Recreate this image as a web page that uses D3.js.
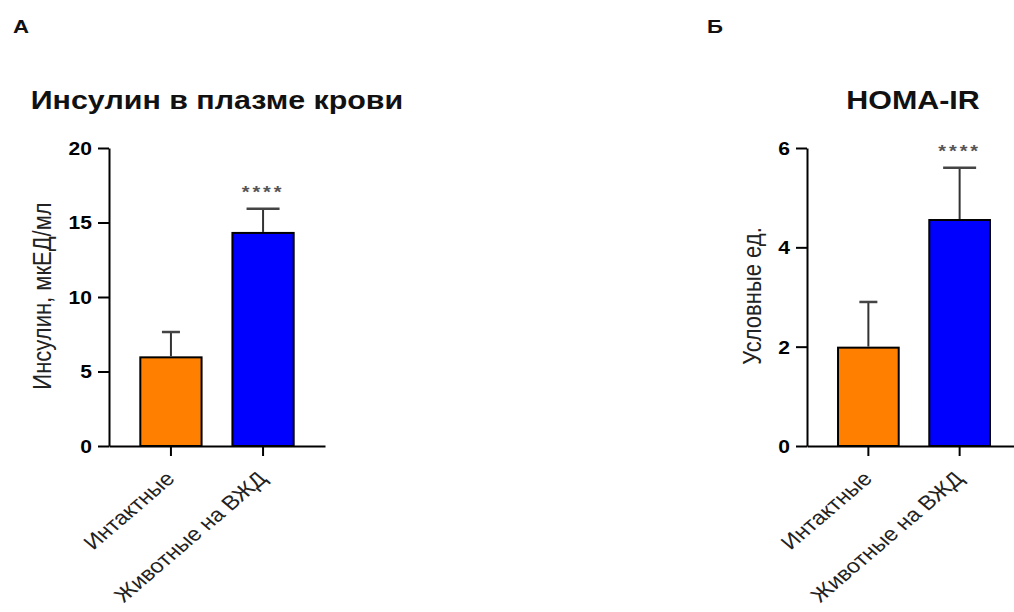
<!DOCTYPE html>
<html><head><meta charset="utf-8">
<script src="https://cdn.jsdelivr.net/npm/d3@7"></script>
<style>
html,body{margin:0;padding:0;background:#fff;}
svg{display:block;font-family:"Liberation Sans",Arial,sans-serif;}
</style></head>
<body>
<svg id="c" width="1014" height="612"></svg>
<script>
// ---- data ----
const categories = ["Интактные", "Животные на ВЖД"];
const insulinMeans = [5.95, 14.3];
const insulinErrors = [1.7, 1.63];
const insulinTicks = [0, 5, 10, 15, 20];
const homaMeans = [1.98, 4.55];
const homaErrors = [0.92, 1.05];
const homaTicks = [0, 2, 4, 6];
const significance = ["", "****"];
const panelLetters = ["А", "Б"];
const titles = ["Инсулин в плазме крови", "HOMA-IR"];
const yLabels = ["Инсулин, мкЕД/мл", "Условные ед."];

// ---- style ----
const barColors = ["#FF8000", "#0000FF"];
const capWidths = [18, 33];
const SX = 1.17; // horizontal text stretch seen in the reference

const svg = d3.select("#c");

function panel(opt) {
  const g = svg.append("g");
  const y = d3.scaleLinear().domain([0, opt.max]).range([446, 148]);
  const x = d3.scaleBand().domain(categories).range([opt.x0, opt.x1])
    .paddingInner(0.335).paddingOuter(0.34);

  // bars
  g.selectAll("rect.bar").data(categories).join("rect")
    .attr("x", d => x(d)).attr("width", x.bandwidth())
    .attr("y", (d, i) => y(opt.means[i]))
    .attr("height", (d, i) => y(0) - y(opt.means[i]))
    .attr("fill", (d, i) => barColors[i])
    .attr("stroke", "#000").attr("stroke-width", 2);

  // error bars (upper only)
  g.selectAll("line.err").data(categories).join("line")
    .attr("x1", d => x(d) + x.bandwidth() / 2).attr("x2", d => x(d) + x.bandwidth() / 2)
    .attr("y1", (d, i) => y(opt.means[i]) - 1)
    .attr("y2", (d, i) => y(opt.means[i] + opt.errs[i]))
    .attr("stroke", "#333").attr("stroke-width", 2);
  g.selectAll("line.cap").data(categories).join("line")
    .attr("x1", (d, i) => x(d) + x.bandwidth() / 2 - capWidths[i] / 2)
    .attr("x2", (d, i) => x(d) + x.bandwidth() / 2 + capWidths[i] / 2)
    .attr("y1", (d, i) => y(opt.means[i] + opt.errs[i]))
    .attr("y2", (d, i) => y(opt.means[i] + opt.errs[i]))
    .attr("stroke", "#444").attr("stroke-width", 2.5);

  // significance
  g.selectAll("text.sig").data(categories).join("text")
    .attr("transform", (d, i) => `translate(${x(d) + x.bandwidth() / 2},${y(opt.means[i] + opt.errs[i]) - 11}) scale(${SX},1)`)
    .attr("text-anchor", "middle")
    .attr("font-size", 17).attr("font-weight", "bold")
    .attr("letter-spacing", 2.5)
    .attr("fill", "#555")
    .text((d, i) => significance[i]);

  // y axis
  const ya = g.append("g").attr("transform", `translate(${opt.x0},0)`)
    .call(d3.axisLeft(y).tickValues(opt.ticks).tickFormat(d3.format("d"))
      .tickSize(11).tickSizeOuter(0).tickPadding(5));
  ya.select(".domain").attr("stroke", "#000").attr("stroke-width", 2);
  ya.selectAll(".tick line").attr("stroke", "#000").attr("stroke-width", 2);
  ya.selectAll(".tick text").attr("font-size", 18).attr("font-weight", "bold")
    .attr("font-family", "Liberation Sans, Arial, sans-serif").attr("fill", "#000")
    .attr("x", 0).attr("dy", "0.36em")
    .attr("transform", `translate(-17,0) scale(${SX},1)`);

  // x axis
  const xa = g.append("g").attr("transform", `translate(0,${y(0)})`)
    .call(d3.axisBottom(x).tickSize(10).tickSizeOuter(0));
  xa.select(".domain").attr("stroke", "#000").attr("stroke-width", 2);
  xa.selectAll(".tick line").attr("stroke", "#000").attr("stroke-width", 2);
  xa.selectAll(".tick text")
    .attr("font-size", 20).attr("font-family", "Liberation Sans, Arial, sans-serif")
    .attr("fill", "#222")
    .attr("text-anchor", "end")
    .attr("x", 0).attr("y", 0).attr("dy", 0)
    .attr("transform", `translate(5,34) scale(${SX},1) rotate(-45)`);

  // y label
  g.append("text")
    .attr("transform", `translate(${opt.ylx},296) scale(${SX},1) rotate(-90)`)
    .attr("text-anchor", "middle").attr("font-size", 22).attr("fill", "#222")
    .text(opt.ylabel);

  // title
  g.append("text").attr("transform", `translate(${opt.tx},109) scale(${SX},1)`)
    .attr("text-anchor", "middle").attr("font-size", 26).attr("font-weight", "bold")
    .attr("fill", "#111").text(opt.title);

  // panel letter
  g.append("text").attr("transform", `translate(${opt.lx},33) scale(${SX},1)`)
    .attr("font-size", 19).attr("font-weight", "bold").attr("fill", "#111")
    .text(opt.letter);
}

panel({max: 20, means: insulinMeans, errs: insulinErrors, ticks: insulinTicks,
  x0: 109, x1: 325, ylx: 51, tx: 217, lx: 13, title: titles[0], ylabel: yLabels[0], letter: panelLetters[0]});
panel({max: 6, means: homaMeans, errs: homaErrors, ticks: homaTicks,
  x0: 807, x1: 1021, ylx: 761, tx: 913, lx: 707, title: titles[1], ylabel: yLabels[1], letter: panelLetters[1]});
</script>
</body></html>
